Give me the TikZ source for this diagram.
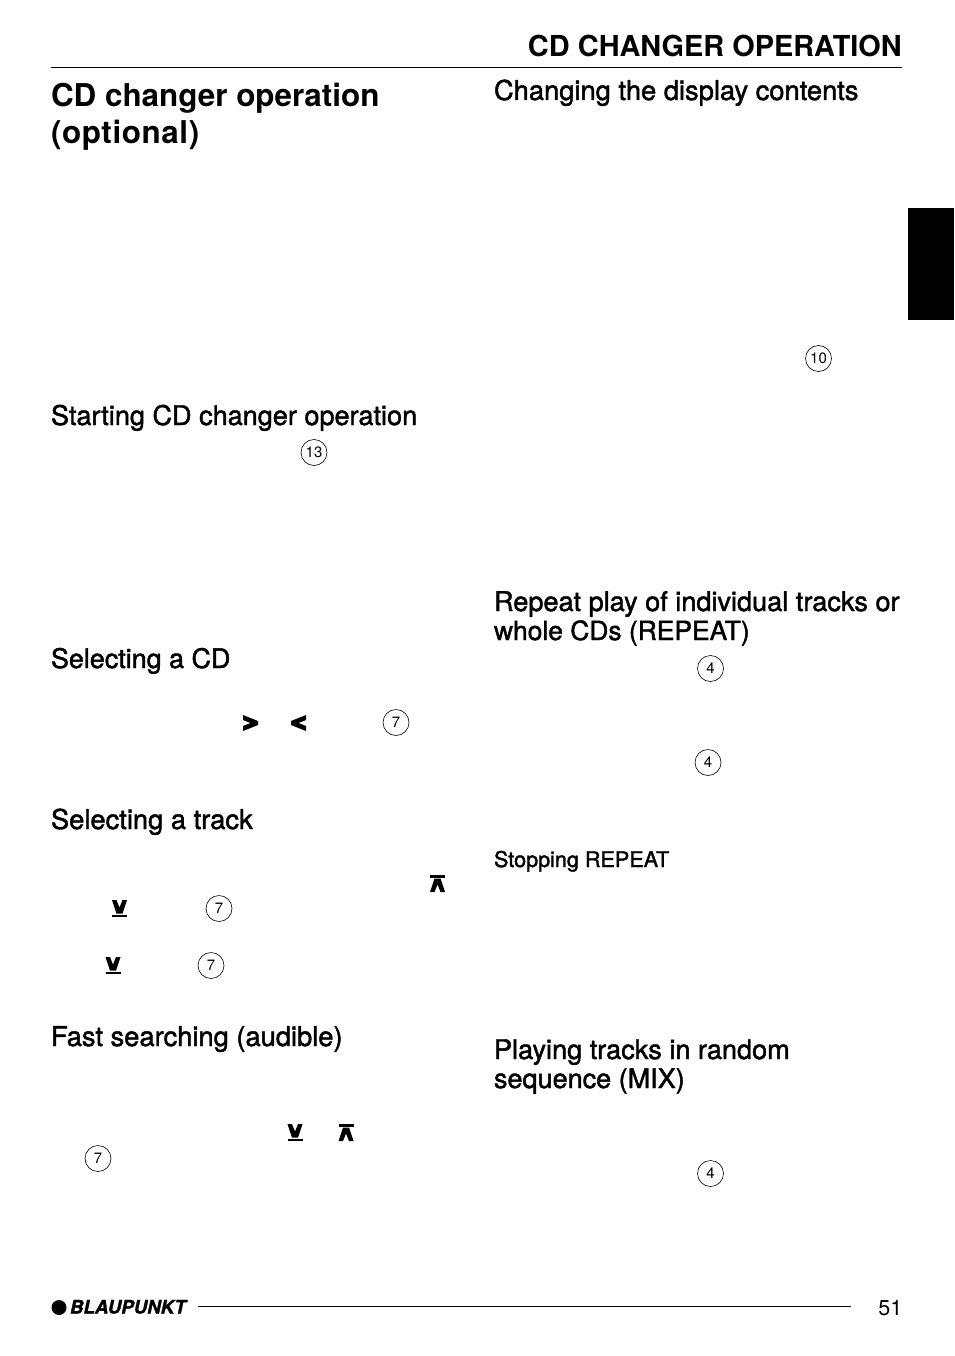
\documentclass[tikz,border=0pt]{standalone}
\usepackage{fontspec}
\setmainfont{TeX Gyre Heros}
\newfontfamily\medfont[FakeBold=1.6]{TeX Gyre Heros}
\newfontfamily\logofont[FakeBold=1.5]{TeX Gyre Heros Bold Italic}
\newfontfamily\chapspaced[LetterSpace=1.9]{TeX Gyre Heros Bold}
\begin{document}
\begin{tikzpicture}[x=1pt,y=-1pt,
  txt/.style={inner sep=0pt,outer sep=0pt,anchor=base west,text=black},
  head/.style={txt,font=\medfont\fontsize{#1}{#1}\selectfont},
  head/.default=27.3,
  chapter/.style={txt,font=\bfseries\fontsize{31.4}{31.4}\selectfont},
  running/.style={inner sep=0pt,anchor=base east,font=\bfseries\fontsize{28.9}{28.9}\selectfont},
  subhead/.style={txt,font=\medfont\fontsize{21.6}{21.6}\selectfont},
  ref/.style={circle,draw=black,line width=0.6pt,minimum size=26pt,inner sep=0pt,font=\fontsize{15}{15}\selectfont},
  rule/.style={line width=0.8pt,black},
  sym/.style={fill=black,draw=none}
]
\useasboundingbox (0,0) rectangle (954,1356);
\fill[white] (0,0) rectangle (954,1356);
% header
\node[running] (runhead) at (902,57) {CD CHANGER OPERATION};
\coordinate (hl) at (51,67.7); \coordinate (hr) at (902,67.7);
\draw[rule] (hl) -- (hr);
\fill[black] (908,208) rectangle (954,320);
% headings
\node[chapter] (c1) at (51,107) {CD changer operation};
\node[chapter,font=\chapspaced\fontsize{31.4}{31.4}\selectfont] (c2) at (51,144) {(optional)};
\node[head=27.07] (h1) at (51,425) {Starting CD changer operation};
\node[head=26.9] (h2) at (51,668) {Selecting a CD};
\node[head] (h3) at (51,829) {Selecting a track};
\node[head] (h4) at (51,1046) {Fast searching (audible)};
\node[head] (h5) at (494,100) {Changing the display contents};
\node[head=27.1] (h6) at (494,611) {Repeat play of individual tracks or};
\node[head=26.4] (h7) at (494,640) {whole CDs (REPEAT)};
\node[subhead] (h8) at (494,867) {Stopping REPEAT};
\node[head=27.1] (h9) at (494,1059) {Playing tracks in random};
\node[head=27] (h10) at (494,1088) {sequence (MIX)};
% reference circles
\node[ref] (r13) at (314,452.5) {13};
\node[ref] (r7a) at (396,722.5) {7};
\node[ref] (r7b) at (219,908.5) {7};
\node[ref] (r7c) at (211,965.5) {7};
\node[ref] (r7d) at (98,1158.5) {7};
\node[ref] (r10) at (818.5,358.5) {10};
\node[ref] (r4a) at (710.5,668.5) {4};
\node[ref] (r4b) at (708,762.5) {4};
\node[ref] (r4c) at (710.5,1173.5) {4};
% chevrons > <
\fill[sym] (243,715) -- (258,721) -- (258,725) -- (243,731) -- (243,726) -- (250.5,723) -- (243,720) -- cycle;
\fill[sym] (306,715) -- (291,721) -- (291,725) -- (306,731) -- (306,726) -- (298.5,723) -- (306,720) -- cycle;
% up symbols
\foreach \x/\y in {437.5/875,346/1124}{
  \fill[sym] (\x-7.5,\y) rectangle (\x+7.5,\y+2.5);
  \fill[sym] (\x-3,\y+3.5) -- (\x+3,\y+3.5) -- (\x+7.5,\y+17) -- (\x+3,\y+17) -- (\x,\y+9.5) -- (\x-3,\y+17) -- (\x-7.5,\y+17) -- cycle;
}
% down symbols
\foreach \x/\y in {119.5/917,113/974,295/1141}{
  \fill[sym] (\x-7.5,\y-2.5) rectangle (\x+7.5,\y);
  \fill[sym] (\x-3,\y-3.5) -- (\x+3,\y-3.5) -- (\x+7.5,\y-17) -- (\x+3,\y-17) -- (\x,\y-9.5) -- (\x-3,\y-17) -- (\x-7.5,\y-17) -- cycle;
}
% footer
\fill[black] (59,1307.5) circle (7.5);
\node[txt,font=\logofont\fontsize{18.7}{18.7}\selectfont] (logo) at (70,1313.5) {BLAUPUNKT};
\coordinate (fl) at (198,1306); \coordinate (fr) at (851,1306);
\draw[rule] (fl) -- (fr);
\node[inner sep=0pt,anchor=base east,font=\fontsize{21.5}{21.5}\selectfont] (page) at (902.5,1315) {51};
\end{tikzpicture}
\end{document}
